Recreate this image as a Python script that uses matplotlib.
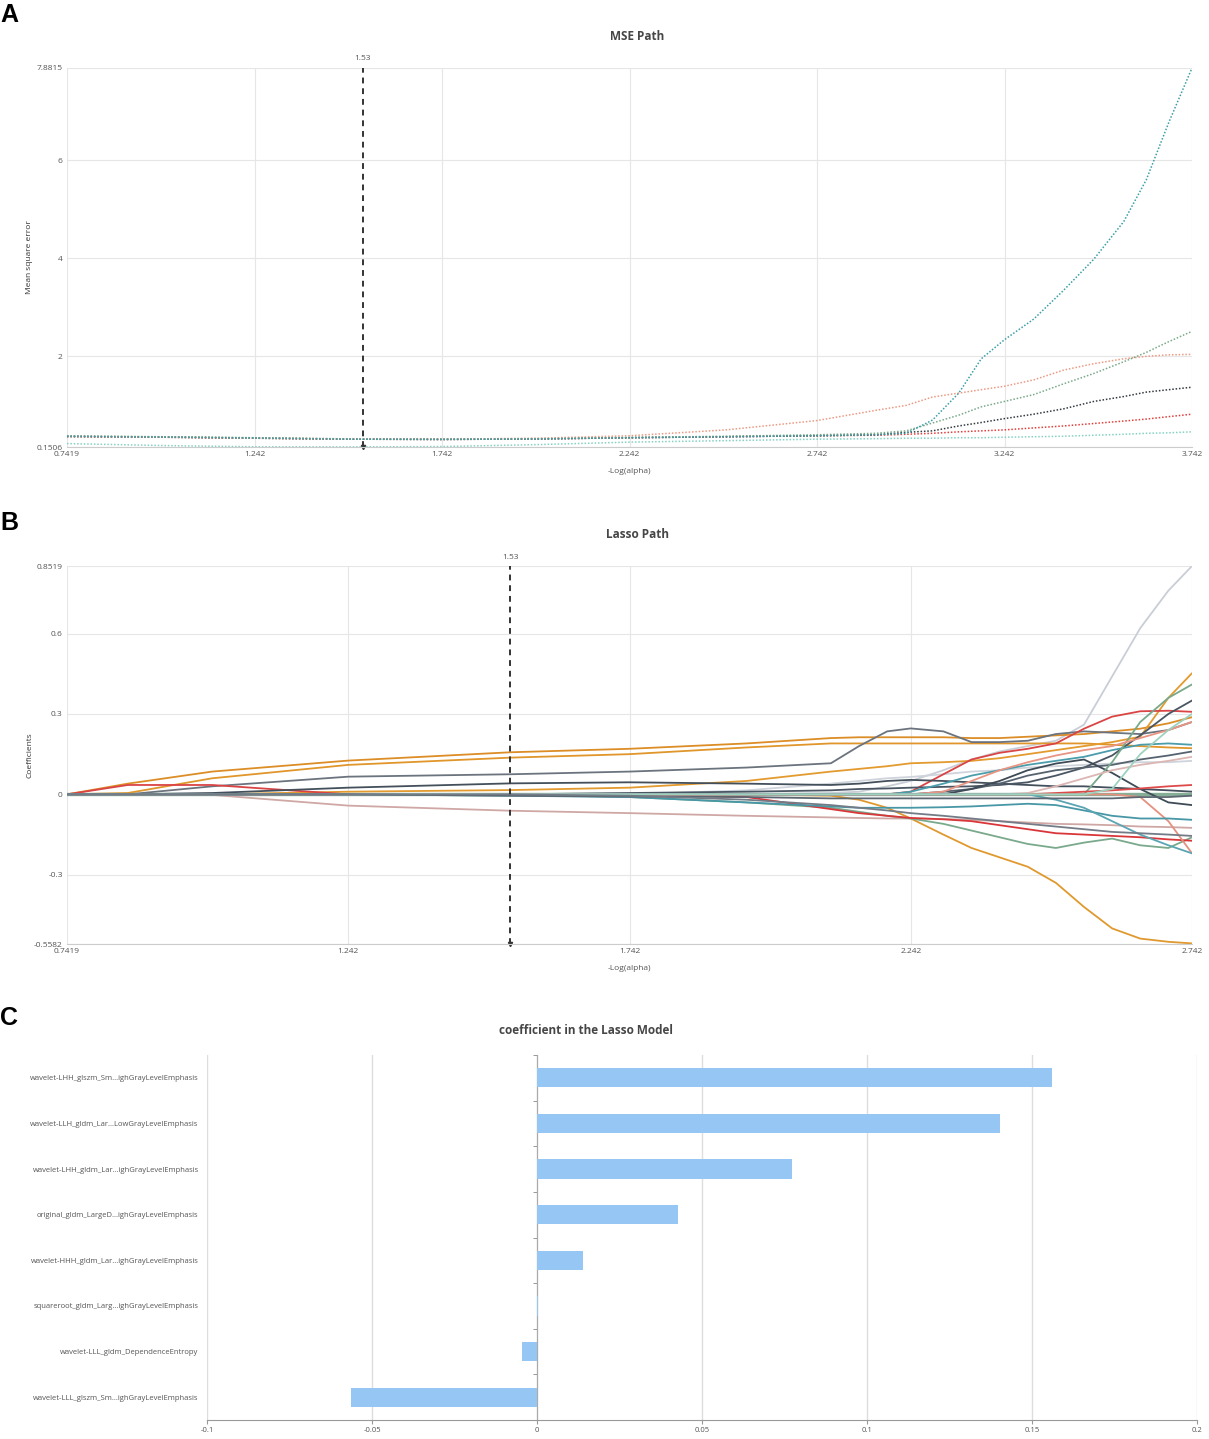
import numpy as np
import matplotlib.pyplot as plt

plt.rcParams['font.family'] = ['Open Sans', 'DejaVu Sans']

# ---------------- data ----------------
best_alpha = 1.53

# A: MSE path (one curve per CV fold)
mse_x = [0.7419, 1.0, 1.242, 1.5, 1.742, 2.0, 2.242, 2.5, 2.742, 2.9, 2.98,
         3.05, 3.12, 3.18, 3.242, 3.32, 3.4, 3.48, 3.56, 3.62, 3.68, 3.742]
mse_cyan = [0.37, 0.355, 0.335, 0.31, 0.305, 0.315, 0.34, 0.36, 0.38, 0.40, 0.43,
            0.70, 1.25, 1.95, 2.34, 2.76, 3.35, 3.98, 4.75, 5.6, 6.77, 7.8815]
mse_green = [0.375, 0.36, 0.34, 0.315, 0.31, 0.32, 0.345, 0.37, 0.40, 0.43, 0.48,
             0.64, 0.80, 0.97, 1.08, 1.22, 1.44, 1.65, 1.89, 2.08, 2.3, 2.51]
mse_salmon = [0.37, 0.355, 0.335, 0.315, 0.31, 0.33, 0.38, 0.5, 0.69, 0.9, 1.0,
              1.17, 1.25, 1.32, 1.39, 1.52, 1.72, 1.85, 1.95, 2.0, 2.03, 2.04]
mse_dark = [0.365, 0.35, 0.33, 0.31, 0.305, 0.315, 0.34, 0.36, 0.38, 0.40, 0.45,
            0.48, 0.58, 0.65, 0.73, 0.82, 0.93, 1.08, 1.18, 1.27, 1.32, 1.37]
mse_red = [0.365, 0.35, 0.33, 0.31, 0.305, 0.315, 0.34, 0.36, 0.38, 0.39, 0.41,
           0.43, 0.46, 0.48, 0.5, 0.54, 0.58, 0.63, 0.68, 0.72, 0.77, 0.82]
mse_lteal = [0.22, 0.18, 0.155, 0.152, 0.16, 0.2, 0.25, 0.28, 0.31, 0.32, 0.33,
             0.33, 0.34, 0.34, 0.35, 0.36, 0.37, 0.39, 0.41, 0.43, 0.44, 0.46]
mse_series = [mse_lteal, mse_red, mse_dark, mse_salmon, mse_green, mse_cyan]
mse_colors = ['#86d2c2', '#e0403c', '#333a40', '#ec9a84', '#7aa98a', '#3b9ea6']

# B: Lasso path
path_x = [0.7419, 0.85, 1.0, 1.242, 1.53, 1.742, 1.95, 2.1, 2.15, 2.2, 2.242,
          2.3, 2.35, 2.4, 2.45, 2.5, 2.55, 2.6, 2.65, 2.7, 2.742]
coef_paths = [
    # (values, colour)
    ([0] * 21, '#86ad95'),
    ([0, 0, 0, 0, 0, 0, 0, 0.005, 0.01, 0.03, 0.05, 0.09, 0.13, 0.16, 0.18, 0.2,
      0.26, 0.44, 0.62, 0.76, 0.8519], '#c9ced6'),
    ([0, 0, 0, 0, 0, 0, 0.015, 0.04, 0.05, 0.06, 0.065, 0.075, 0.085, 0.09, 0.1,
      0.105, 0.11, 0.115, 0.12, 0.12, 0.125], '#cfd4dc'),
    ([0, 0.04, 0.085, 0.126, 0.157, 0.17, 0.19, 0.21, 0.213, 0.213, 0.213, 0.213,
      0.21, 0.21, 0.215, 0.22, 0.225, 0.235, 0.245, 0.265, 0.288], '#dc8d26'),
    ([0, 0.005, 0.06, 0.11, 0.137, 0.15, 0.175, 0.19, 0.19, 0.19, 0.19, 0.19,
      0.19, 0.19, 0.19, 0.19, 0.19, 0.185, 0.18, 0.175, 0.172], '#e0962a'),
    ([0, 0, 0, 0.01, 0.016, 0.025, 0.05, 0.085, 0.095, 0.105, 0.116, 0.12, 0.125,
      0.135, 0.15, 0.165, 0.18, 0.195, 0.215, 0.36, 0.452], '#e39a2e'),
    ([0, 0, 0, 0, 0, 0, 0, -0.005, -0.02, -0.05, -0.09, -0.15, -0.2, -0.235,
      -0.27, -0.33, -0.42, -0.5, -0.538, -0.55, -0.556], '#e0992e'),
    ([0, 0, 0.03, 0.066, 0.075, 0.085, 0.1, 0.116, 0.18, 0.235, 0.246, 0.235,
      0.195, 0.195, 0.2, 0.225, 0.235, 0.23, 0.225, 0.24, 0.27], '#6b747e'),
    ([0, 0.035, 0.035, 0, 0, 0, 0, 0, 0, 0, 0.01, 0.075, 0.13, 0.155, 0.17, 0.19,
      0.245, 0.29, 0.31, 0.312, 0.308], '#da4444'),
    ([0, 0, -0.002, -0.042, -0.061, -0.07, -0.08, -0.086, -0.088, -0.09, -0.09,
      -0.092, -0.095, -0.1, -0.105, -0.11, -0.112, -0.115, -0.12, -0.122, -0.125], '#cfa8a5'),
    ([0, 0, 0.005, 0.025, 0.041, 0.045, 0.04, 0.035, 0.04, 0.05, 0.054, 0.05,
      0.045, 0.04, 0.035, 0.03, 0.03, 0.025, 0.02, 0.015, 0.01], '#43505c'),
    ([0, 0, 0, 0, 0, 0.005, 0.01, 0.015, 0.02, 0.022, 0.025, 0.028, 0.03, 0.035,
      0.045, 0.07, 0.1, 0.145, 0.22, 0.3, 0.35], '#4a5663'),
    ([0, 0, 0, 0, 0, 0, 0, 0, 0, 0, 0, 0.01, 0.02, 0.04, 0.07, 0.09, 0.1, 0.11,
      0.13, 0.145, 0.16], '#56626e'),
    ([0, 0, 0, 0, 0, 0, 0, 0, 0, 0, 0, 0, 0.02, 0.05, 0.09, 0.115, 0.13, 0.08,
      0.02, -0.03, -0.04], '#3e4a56'),
    ([0, 0, 0, 0, 0, 0, 0, 0, 0, 0, 0.01, 0.04, 0.07, 0.09, 0.11, 0.125, 0.14,
      0.165, 0.185, 0.19, 0.185], '#4b9dac'),
    ([0, 0, 0, 0, 0, 0, 0, 0, 0, 0, 0, 0, 0, 0, 0, 0, 0, 0.12, 0.27, 0.36, 0.41], '#78a98a'),
    ([0, 0, 0, 0, 0, -0.01, -0.03, -0.05, -0.065, -0.08, -0.09, -0.11, -0.135,
      -0.16, -0.185, -0.2, -0.18, -0.165, -0.19, -0.2, -0.16], '#7aa98c'),
    ([0, 0, 0, 0, 0, 0, -0.01, -0.055, -0.07, -0.08, -0.088, -0.093, -0.1, -0.115,
      -0.13, -0.145, -0.15, -0.155, -0.16, -0.168, -0.173], '#d9363a'),
    ([0, 0, 0, 0, 0, 0, 0, 0, 0, 0, 0, 0, 0, 0, 0, 0.005, 0.01, 0.015, 0.022,
      0.03, 0.035], '#de4a4a'),
    ([0, 0, 0, 0, 0, 0, 0, 0, 0, 0, 0, 0.01, 0.05, 0.09, 0.12, 0.145, 0.165, 0.18,
      0.21, 0.24, 0.27], '#e89583'),
    ([0, 0, 0, 0, 0, 0, 0, 0, 0, 0, 0, 0, 0, 0, 0, 0, 0, 0, -0.01, -0.1, -0.22], '#e4907e'),
    ([0, 0, 0, 0, 0, 0, 0, 0, 0, 0, 0, 0, 0, 0, 0.005, 0.03, 0.06, 0.09, 0.11,
      0.125, 0.14], '#dcb6b2'),
    ([0, 0, 0, 0, -0.005, -0.01, -0.03, -0.045, -0.05, -0.05, -0.05, -0.048, -0.045,
      -0.04, -0.035, -0.04, -0.06, -0.08, -0.09, -0.09, -0.095], '#4797a6'),
    ([0, 0, 0, 0, 0, 0, 0, 0, 0, 0, 0, 0, 0, 0, 0, -0.02, -0.05, -0.1, -0.15,
      -0.19, -0.22], '#5aa5b2'),
    ([0, 0, 0, 0, 0, 0, 0, 0, 0, 0, 0, 0, 0, 0, 0, 0, 0, 0.02, 0.15, 0.24, 0.3], '#9dd2bf'),
    ([0, 0, 0, 0, -0.005, -0.008, -0.01, -0.015, -0.015, -0.015, -0.015, -0.015,
      -0.015, -0.015, -0.015, -0.015, -0.015, -0.015, -0.01, -0.01, -0.005], '#5c6670'),
    ([0, 0, 0, 0, 0, -0.005, -0.02, -0.04, -0.05, -0.06, -0.07, -0.08, -0.09, -0.1,
      -0.11, -0.12, -0.13, -0.14, -0.145, -0.15, -0.155], '#737c86'),
]

# C: coefficients of selected features
features = ['wavelet-LHH_glszm_Sm...ighGrayLevelEmphasis',
            'wavelet-LLH_gldm_Lar...LowGrayLevelEmphasis',
            'wavelet-LHH_gldm_Lar...ighGrayLevelEmphasis',
            'original_gldm_LargeD...ighGrayLevelEmphasis',
            'wavelet-HHH_gldm_Lar...ighGrayLevelEmphasis',
            'squareroot_gldm_Larg...ighGrayLevelEmphasis',
            'wavelet-LLL_gldm_DependenceEntropy',
            'wavelet-LLL_glszm_Sm...ighGrayLevelEmphasis']
coefs = [0.1562, 0.1402, 0.0772, 0.0428, 0.0139, 0.0002, -0.0044, -0.0565]

# ---------------- figure ----------------
W, H = 1209, 1439
fig = plt.figure(figsize=(W / 100, H / 100), dpi=100)

def box(x0, y0, x1, y1):
    return [x0 / W, 1 - y1 / H, (x1 - x0) / W, (y1 - y0) / H]

grid_c = '#e6e6e6'
tick_c = '#555555'

def style_line_axes(ax, xticks, yticks, ylabels):
    ax.set_xticks(xticks)
    ax.set_xticklabels([('%g' % t) for t in xticks])
    ax.set_yticks(yticks)
    ax.set_yticklabels(ylabels)
    ax.grid(True, color=grid_c, lw=0.8)
    ax.set_axisbelow(True)
    for s in ['top', 'right', 'left']:
        ax.spines[s].set_visible(False)
    ax.spines['bottom'].set_color('#cccccc')
    ax.tick_params(length=0, labelsize=6, colors=tick_c, pad=3)

# panel A
axA = fig.add_axes(box(67, 68, 1192, 447))
for vals, col in zip(mse_series, mse_colors):
    axA.plot(mse_x, vals, color=col, lw=1.1, ls=(0, (1, 1.2)))
axA.set_xlim(0.7419, 3.742)
axA.set_ylim(0.1506, 7.8815)
style_line_axes(axA, [0.7419, 1.242, 1.742, 2.242, 2.742, 3.242, 3.742],
                [0.1506, 2, 4, 6, 7.8815], ['0.1506', '2', '4', '6', '7.8815'])
axA.axvline(best_alpha, color='#333333', ls=(0, (3, 2.5)), lw=1.4)
axA.plot([best_alpha], [0.1506], marker='v', color='#333333', ms=3, clip_on=False)
axA.text(best_alpha, 7.8815 + 0.12, '1.53', ha='center', va='bottom', fontsize=6, color=tick_c)
axA.set_xlabel('-Log(alpha)', fontsize=6, color=tick_c, labelpad=7)
axA.set_ylabel('Mean square error', fontsize=6, color='#333333')
axA.yaxis.set_label_coords((33 - 67) / 1125, 0.5)
fig.text(637 / W, 1 - 37 / H, 'MSE Path', ha='center', va='center', fontsize=8.5,
         fontweight='bold', color='#464646')

# panel B
axB = fig.add_axes(box(67, 566, 1192, 944))
for vals, col in coef_paths:
    lw = 2.4 if not any(vals) else 1.3
    axB.plot(path_x, vals, color=col, lw=lw, solid_capstyle='round', solid_joinstyle='round')
axB.set_xlim(0.7419, 2.742)
axB.set_ylim(-0.5582, 0.8519)
style_line_axes(axB, [0.7419, 1.242, 1.742, 2.242, 2.742],
                [-0.5582, -0.3, 0, 0.3, 0.6, 0.8519],
                ['-0.5582', '-0.3', '0', '0.3', '0.6', '0.8519'])
axB.axvline(best_alpha, color='#333333', ls=(0, (3, 2.5)), lw=1.4)
axB.plot([best_alpha], [-0.5582], marker='v', color='#333333', ms=3, clip_on=False)
axB.text(best_alpha, 0.8519 + 0.02, '1.53', ha='center', va='bottom', fontsize=6, color=tick_c)
axB.set_xlabel('-Log(alpha)', fontsize=6, color=tick_c, labelpad=7)
axB.set_ylabel('Coefficients', fontsize=6, color='#333333')
axB.yaxis.set_label_coords((33 - 67) / 1125, 0.5)
fig.text(637 / W, 1 - 535 / H, 'Lasso Path', ha='center', va='center', fontsize=8.5,
         fontweight='bold', color='#464646')

# panel C
axC = fig.add_axes(box(207, 1055, 1197, 1420))
ypos = np.arange(len(features))
axC.barh(ypos, coefs, height=0.42, color='#95c6f4', zorder=3)
axC.set_xlim(-0.1, 0.2)
axC.set_ylim(len(features) - 0.5, -0.5)
xt = [-0.1, -0.05, 0, 0.05, 0.1, 0.15, 0.2]
axC.set_xticks(xt)
axC.set_xticklabels(['-0.1', '-0.05', '0', '0.05', '0.1', '0.15', '0.2'])
axC.set_yticks(ypos)
axC.set_yticklabels(features)
axC.set_yticks(np.arange(-0.5, len(features) - 0.5, 1), minor=True)
axC.grid(True, axis='x', color='#dddddd', lw=1.0)
axC.set_axisbelow(True)
for s in ['top', 'left']:
    axC.spines[s].set_visible(False)
axC.spines['right'].set_position(('data', 0))
axC.spines['right'].set_color('#aaaaaa')
axC.spines['bottom'].set_color('#999999')
axC.tick_params(axis='y', which='major', length=0, labelsize=5.5, colors=tick_c, pad=6)
axC.tick_params(axis='y', which='minor', left=False, right=True, direction='in',
                length=3, color='#888888')
axC.tick_params(axis='x', length=3, color='#999999', labelsize=5.5, colors=tick_c, pad=2)
fig.text(586 / W, 1 - 1031 / H, 'coefficient in the Lasso Model', ha='center', va='center',
         fontsize=8.5, fontweight='bold', color='#464646')

# panel letters
for letter, yp in [('A', 15), ('B', 523), ('C', 1018)]:
    fig.text(0.0, 1 - yp / H, letter, ha='left', va='center', fontsize=18,
             fontweight='bold', family='Liberation Sans')

fig.savefig('out.png', dpi=100)
